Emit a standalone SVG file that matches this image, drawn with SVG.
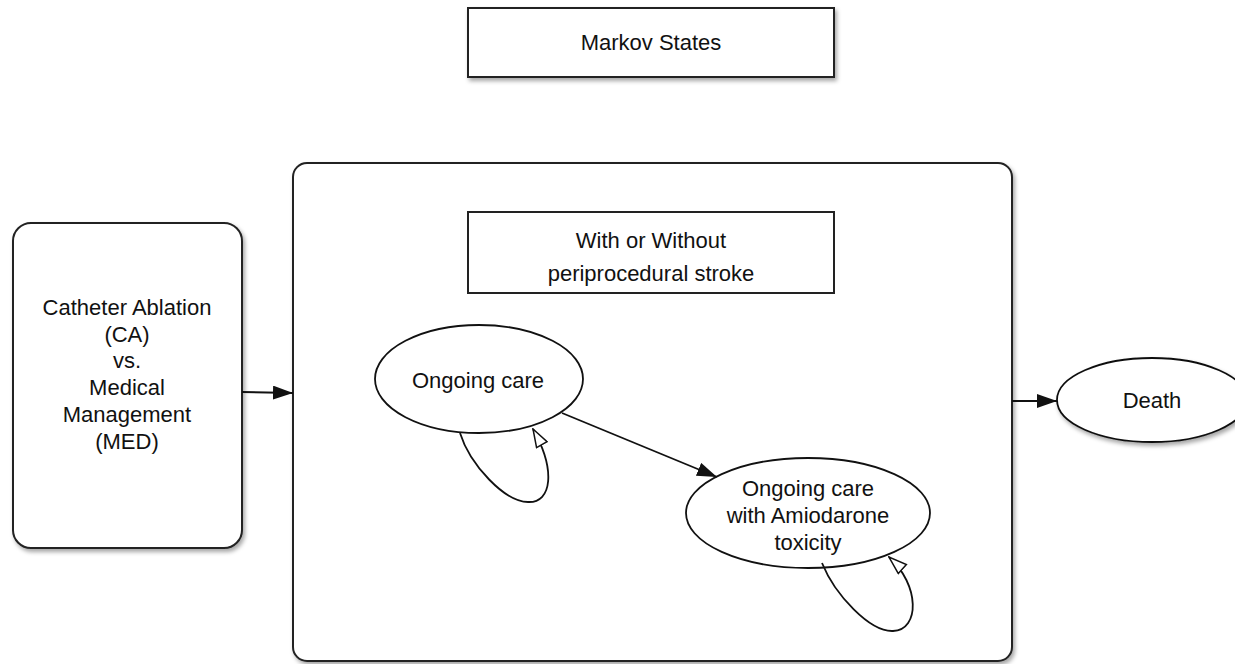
<svg xmlns="http://www.w3.org/2000/svg" width="1235" height="664" viewBox="0 0 1235 664">
  <defs>
    <filter id="shadow" x="-10%" y="-10%" width="130%" height="130%">
      <feDropShadow dx="2" dy="3" stdDeviation="2" flood-color="#000" flood-opacity="0.35"/>
    </filter>
    <marker id="solid" viewBox="0 0 20 14" refX="20" refY="7" markerWidth="20" markerHeight="14" markerUnits="userSpaceOnUse" orient="auto">
      <path d="M0,0 L20,7 L0,14 Z" fill="#111"/>
    </marker>
    <marker id="open" viewBox="0 0 20 14" refX="19" refY="7" markerWidth="20" markerHeight="14" markerUnits="userSpaceOnUse" orient="auto">
      <path d="M1,1 L19,7 L1,13 Z" fill="#fff" stroke="#111" stroke-width="1.5"/>
    </marker>
  </defs>
  <style>
    .box { fill: #fff; stroke: #222; stroke-width: 2; }
    .shape { fill: #fff; stroke: #111; stroke-width: 1.8; }
    .lbl { font-family: "Liberation Sans", Arial, sans-serif; font-size: 22px; fill: #111; text-anchor: middle; }
    .edge { fill: none; stroke: #111; stroke-width: 1.8; }
  </style>
  <rect width="1235" height="664" fill="#fff"/>

  <g id="markov-states">
    <rect class="box" x="468" y="8" width="366" height="69" filter="url(#shadow)"/>
    <text class="lbl" x="651" y="50">Markov States</text>
  </g>

  <g id="container">
    <rect class="box" x="293" y="163" width="719" height="498" rx="14" ry="14" filter="url(#shadow)"/>
  </g>

  <g id="stroke-label">
    <rect class="box" x="468" y="212" width="366" height="81"/>
    <text class="lbl" x="651" y="248">With or Without</text>
    <text class="lbl" x="651" y="281">periprocedural stroke</text>
  </g>

  <g id="strategy">
    <rect class="box" x="13" y="223" width="229" height="325" rx="18" ry="18" filter="url(#shadow)"/>
    <text class="lbl" x="127" y="315">Catheter Ablation</text>
    <text class="lbl" x="127" y="342">(CA)</text>
    <text class="lbl" x="127" y="368">vs.</text>
    <text class="lbl" x="127" y="395">Medical</text>
    <text class="lbl" x="127" y="422">Management</text>
    <text class="lbl" x="127" y="449">(MED)</text>
  </g>

  <g id="ongoing-care">
    <ellipse class="shape" cx="479" cy="379" rx="104" ry="54"/>
    <text class="lbl" x="478" y="388">Ongoing care</text>
  </g>

  <g id="amiodarone">
    <ellipse class="shape" cx="808" cy="513" rx="122" ry="55"/>
    <text class="lbl" x="808" y="496">Ongoing care</text>
    <text class="lbl" x="808" y="523">with Amiodarone</text>
    <text class="lbl" x="808" y="550">toxicity</text>
  </g>

  <g id="death">
    <ellipse class="shape" cx="1152" cy="400" rx="95" ry="42" filter="url(#shadow)"/>
    <text class="lbl" x="1152" y="408">Death</text>
  </g>

  <g id="connectors">
    <path class="edge" d="M242,392 L293,393" marker-end="url(#solid)"/>
    <path class="edge" d="M1012,401 L1057,401" marker-end="url(#solid)"/>
    <path class="edge" d="M562,413 L717,477" marker-end="url(#solid)"/>
    <path class="edge" d="M460,433 C470,465 505,502 528,502 C552,503 556,470 533,429" marker-end="url(#open)"/>
    <path class="edge" d="M822,563 C835,595 870,632 893,631 C920,630 920,585 889,557" marker-end="url(#open)"/>
  </g>
</svg>
